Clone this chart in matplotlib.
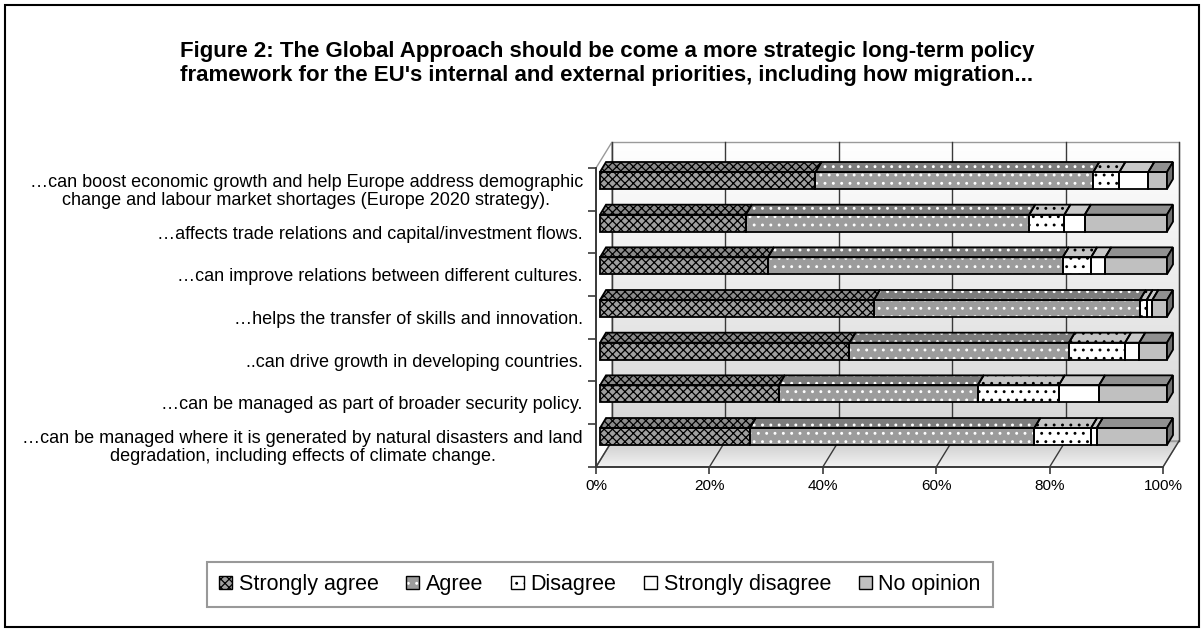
import numpy as np
import matplotlib.pyplot as plt
from matplotlib.patches import Polygon, Rectangle, Patch

plt.rcParams['font.family'] = ['Liberation Sans', 'DejaVu Sans']
plt.rcParams['hatch.linewidth'] = 0.9

title = ("Figure 2: The Global Approach should be come a more strategic long-term policy\n"
         "framework for the EU's internal and external priorities, including how migration...")

categories = [
    "\u2026can boost economic growth and help Europe address demographic\n"
    "change and labour market shortages (Europe 2020 strategy).",
    "\u2026affects trade relations and capital/investment flows.",
    "\u2026can improve relations between different cultures.",
    "\u2026helps the transfer of skills and innovation.",
    "..can drive growth in developing countries.",
    "\u2026can be managed as part of broader security policy.",
    "\u2026can be managed where it is generated by natural disasters and land\n"
    "degradation, including effects of climate change.",
]
series = ['Strongly agree', 'Agree', 'Disagree', 'Strongly disagree', 'No opinion']
strongly_agree = [38.0, 25.7, 29.6, 48.3, 44.0, 31.5, 26.4]
agree = [49.0, 50.0, 52.0, 46.9, 38.7, 35.1, 50.2]
disagree = [4.6, 6.2, 5.0, 1.2, 9.9, 14.3, 10.0]
strongly_disagree = [5.1, 3.6, 2.5, 1.0, 2.5, 7.1, 1.0]
no_opinion = [3.3, 14.5, 10.9, 2.6, 4.9, 12.0, 12.4]
xticks = [0, 20, 40, 60, 80, 100]

# look of each series: front colour, hatch, hatch colour, top colour
styles = [
    ('#a0a0a0', 'xxxx', 'black', '#8a8a8a'),
    ('#9c9c9c', '..', 'white', '#7c7c7c'),
    ('#ffffff', '..', 'black', '#c4c4c4'),
    ('#ffffff', '', 'black', '#c8c8c8'),
    ('#c0c0c0', '', 'black', '#909090'),
]

# pseudo 3d geometry (data units: x in %, y in rows)
PX_X = 5.67
PX_Y = 42.67
BAR_SHIFT = 4 / PX_X
BAR_HALF = 8.5 / PX_Y
DEP_X = 6 / PX_X
DEP_Y = -10 / PX_Y
WALL_X = 16 / PX_X
WALL_Y = -26 / PX_Y
Y_FLOOR = (467 - 180.5) / PX_Y
Y_TOP = (168 - 180.5) / PX_Y

fig = plt.figure(figsize=(12.04, 6.32), dpi=100)
ax = fig.add_axes([596 / 1204, 1 - 467 / 632, (1186 - 596) / 1204, (467 - 136) / 632])
ax.set_xlim(0, (1186 - 596) / PX_X)
ax.set_ylim(Y_FLOOR, (136 - 180.5) / PX_Y)
ax.patch.set_visible(False)

# back wall with gradient
wall_grad = np.linspace(1.0, 0.84, 100)[:, None, None] * np.ones((1, 1, 3))
ax.imshow(wall_grad, extent=(WALL_X, 100 + WALL_X, Y_FLOOR + WALL_Y, Y_TOP + WALL_Y),
          aspect='auto', zorder=0.2)
ax.add_patch(Rectangle((WALL_X, Y_TOP + WALL_Y), 100, Y_FLOOR - Y_TOP,
                       fill=False, edgecolor='#9a9a9a', lw=1, zorder=0.3))

# floor with gradient
floor_pts = [(0, Y_FLOOR), (100, Y_FLOOR), (100 + WALL_X, Y_FLOOR + WALL_Y), (WALL_X, Y_FLOOR + WALL_Y)]
floor = Polygon(floor_pts, closed=True, facecolor='none', edgecolor='#9a9a9a', lw=1, zorder=0.35)
ax.add_patch(floor)
floor_grad = np.linspace(0.80, 0.95, 100)[:, None, None] * np.ones((1, 1, 3))
im = ax.imshow(floor_grad, extent=(0, 100 + WALL_X, Y_FLOOR, Y_FLOOR + WALL_Y),
               aspect='auto', zorder=0.25)
im.set_clip_path(floor)

# side wall
ax.add_patch(Polygon([(0, Y_TOP), (0, Y_FLOOR), (WALL_X, Y_FLOOR + WALL_Y), (WALL_X, Y_TOP + WALL_Y)],
                     closed=True, facecolor='white', edgecolor='#9a9a9a', lw=1, zorder=0.3))

# grid lines on wall and floor
for v in xticks:
    ax.plot([v + WALL_X, v + WALL_X], [Y_TOP + WALL_Y, Y_FLOOR + WALL_Y], color='#3a3a3a', lw=1, zorder=0.4)
    ax.plot([v, v + WALL_X], [Y_FLOOR, Y_FLOOR + WALL_Y], color='#3a3a3a', lw=1, zorder=0.4)

# bars
values = [strongly_agree, agree, disagree, strongly_disagree, no_opinion]
y = np.arange(len(categories))
left = np.zeros(len(categories))
for vals, (face, hatch, hcol, top) in zip(values, styles):
    vals = np.array(vals)
    ax.barh(y, vals, left=left + BAR_SHIFT, height=2 * BAR_HALF, color=face,
            hatch=hatch, edgecolor=hcol, lw=0, zorder=2)
    ax.barh(y, vals, left=left + BAR_SHIFT, height=2 * BAR_HALF, fill=False,
            edgecolor='black', lw=1.3, zorder=3)
    for i in range(len(y)):
        x0 = left[i] + BAR_SHIFT
        x1 = x0 + vals[i]
        yt = y[i] - BAR_HALF
        pts = [(x0, yt), (x1, yt), (x1 + DEP_X, yt + DEP_Y), (x0 + DEP_X, yt + DEP_Y)]
        ax.add_patch(Polygon(pts, closed=True, facecolor=top, hatch=hatch,
                             edgecolor=hcol, lw=0, zorder=2))
        ax.add_patch(Polygon(pts, closed=True, fill=False, edgecolor='black', lw=1.3, zorder=3))
    left = left + vals

# end caps
for i in range(len(y)):
    x1 = left[i] + BAR_SHIFT
    pts = [(x1, y[i] - BAR_HALF), (x1, y[i] + BAR_HALF),
           (x1 + DEP_X, y[i] + BAR_HALF + DEP_Y), (x1 + DEP_X, y[i] - BAR_HALF + DEP_Y)]
    ax.add_patch(Polygon(pts, closed=True, facecolor='#707070', edgecolor='black', lw=1.3, zorder=3))

# axes
for s in ['top', 'right']:
    ax.spines[s].set_visible(False)
ax.spines['left'].set_bounds(Y_FLOOR, Y_TOP)
ax.spines['bottom'].set_bounds(0, 100)
for s in ['left', 'bottom']:
    ax.spines[s].set_color('#3a3a3a')
    ax.spines[s].set_linewidth(1.4)
    ax.spines[s].set_zorder(4)

ax.set_xticks(xticks, [f'{v}%' for v in xticks], fontsize=11)
ax.tick_params(axis='x', length=5, width=1.2, color='#3a3a3a', pad=4)

ax.set_yticks(Y_TOP + np.arange(len(categories) + 1), [])
ax.tick_params(axis='y', which='major', length=6, width=1.2, color='#3a3a3a')
ax.set_yticks(Y_TOP + 0.5 + y, categories, minor=True, fontsize=13)
ax.tick_params(axis='y', which='minor', length=0, pad=9.5)
for lab in ax.get_yticklabels(minor=True):
    lab.set_multialignment('center')
    lab.set_linespacing(1.05)

fig.text(607 / 1204, 1 - 63.5 / 632, title, ha='center', va='center',
         fontsize=16, fontweight='bold', linespacing=1.15)

# legend
handles = []
for face, hatch, hcol, top in styles:
    handles.append((Patch(facecolor=face, hatch=hatch, edgecolor=hcol, lw=0),
                    Patch(fill=False, edgecolor='black', lw=1)))
leg = fig.legend(handles, series, loc='center', bbox_to_anchor=(600 / 1204, 1 - 584.5 / 632),
                 ncol=5, fontsize=15.5, frameon=True, fancybox=False, edgecolor='#808080',
                 handlelength=0.6, handleheight=0.6, handletextpad=0.3, columnspacing=1.3,
                 borderpad=0.55)
leg.get_frame().set_linewidth(1.5)

fig.patches.append(Rectangle((5 / 1204, 5 / 632), 1194 / 1204, 622 / 632, fill=False,
                             edgecolor='black', lw=1.5, transform=fig.transFigure))

fig.savefig('out.png', dpi=100)
